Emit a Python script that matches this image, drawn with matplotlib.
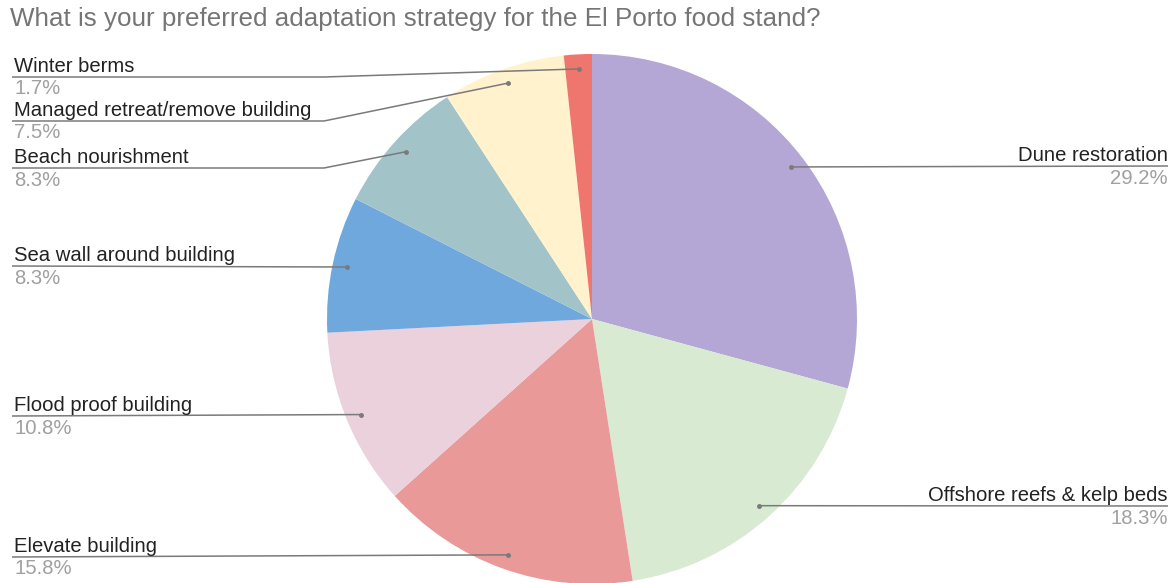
import numpy as np
import matplotlib.pyplot as plt

# Survey results, clockwise from 12 o'clock
strategies = [
    "Dune restoration",
    "Offshore reefs & kelp beds",
    "Elevate building",
    "Flood proof building",
    "Sea wall around building",
    "Beach nourishment",
    "Managed retreat/remove building",
    "Winter berms",
]
shares = [29.2, 18.3, 15.8, 10.8, 8.3, 8.3, 7.5, 1.7]
colors = ["#b4a7d6", "#d9ead3", "#ea9999", "#ead1dc",
          "#6fa8dc", "#a2c4c9", "#fff2cc", "#ee766f"]

TITLE = "What is your preferred adaptation strategy for the El Porto food stand?"

# Canvas in pixels
W, H = 1173, 583
CX, CY, R = 592, 319, 265

# Label side and underline height (pixels from top), same order as strategies
label_side = ["right", "right", "left", "left", "left", "left", "left", "left"]
label_line_y = [166, 506, 557, 416, 266, 168, 121, 77]
LEFT_X, RIGHT_X, ELBOW_X = 12, 1168, 324

LINE_COLOR = "#7a7a7a"
NAME_COLOR = "#222222"
PCT_COLOR = "#a0a0a0"
FONT = "Liberation Sans"
LABEL_SIZE = 14.6


def flip(py):
    return H - py


fig = plt.figure(figsize=(W / 100, H / 100), dpi=100)
ax = fig.add_axes([0, 0, 1, 1])

wedges, _ = ax.pie(
    shares,
    colors=colors,
    startangle=90,
    counterclock=False,
    center=(CX, flip(CY)),
    radius=R,
    frame=True,
    wedgeprops=dict(linewidth=0),
)
ax.set_xlim(0, W)
ax.set_ylim(0, H)
ax.set_aspect("auto")
ax.axis("off")

for wedge, name, value, side, ly in zip(wedges, strategies, shares, label_side, label_line_y):
    mid = np.deg2rad((wedge.theta1 + wedge.theta2) / 2)
    dot_x = CX + 0.945 * R * np.cos(mid)
    dot_y = flip(CY) + 0.945 * R * np.sin(mid)
    y = flip(ly)

    if side == "left":
        if abs(dot_y - y) > 6:
            xs = [LEFT_X, ELBOW_X, dot_x]
            ys = [y, y, dot_y]
        else:
            xs = [LEFT_X, dot_x]
            ys = [y, dot_y]
        tx, ha = LEFT_X + 2, "left"
    else:
        xs = [dot_x, RIGHT_X]
        ys = [dot_y, y]
        tx, ha = RIGHT_X, "right"

    ax.plot(xs, ys, color=LINE_COLOR, linewidth=1.1, solid_capstyle="butt")
    ax.plot([dot_x], [dot_y], "o", color=LINE_COLOR, markersize=2.5)

    ax.text(tx, y + 1, name, ha=ha, va="bottom", fontsize=LABEL_SIZE,
            color=NAME_COLOR, family=FONT)
    ax.text(tx, y - 2.5, f"{value:.1f}%", ha=ha, va="top", fontsize=LABEL_SIZE,
            color=PCT_COLOR, family=FONT)

fig.text(10 / W, 1 - 19 / H, TITLE, ha="left", va="center", fontsize=18.7,
         color="#757575", family=FONT)

fig.savefig("out.png", dpi=100)
